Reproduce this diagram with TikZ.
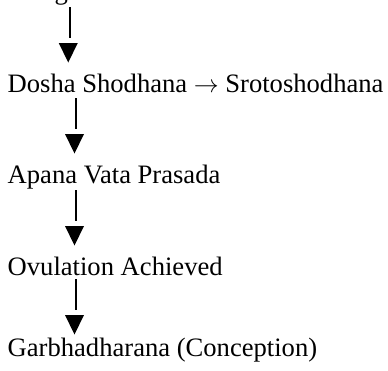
\documentclass[tikz,border=0pt]{standalone}
\usepackage{fontspec}
\setmainfont{Liberation Serif}
\usetikzlibrary{calc}
\begin{document}
\begin{tikzpicture}[x=1pt,y=-1pt,
  lbl/.style={anchor=base west,inner sep=0pt,font=\fontsize{26.6}{30}\selectfont},
  stem/.style={line width=2pt},
  darr/.pic={
    \draw[stem] (1.75,0) -- (1.75,31);
    \fill (-9.5,36) -- (9.5,36) -- (0,55.5) -- cycle;
  }]
\useasboundingbox (0,0) rectangle (388,370);
\node[lbl] (t0) at (54.5,-1) {g};
\node[lbl] (t1) at (7.5,92) {Dosha Shodhana $\rightarrow$ Srotoshodhana};
\node[lbl] (t2) at (7.5,183) {Apana Vata Prasada};
\node[lbl] (t3) at (7.5,275) {Ovulation Achieved};
\node[lbl] (t4) at (7.5,356) {Garbhadharana (Conception)};
\pic (a1) at ($(t0.base west)+(13.75,8)$) {darr};
\pic (a2) at ($(t1.base west)+(67,6)$) {darr};
\pic (a3) at ($(t2.base west)+(67,7)$) {darr};
\pic (a4) at ($(t3.base west)+(67,4)$) {darr};
\end{tikzpicture}
\end{document}
